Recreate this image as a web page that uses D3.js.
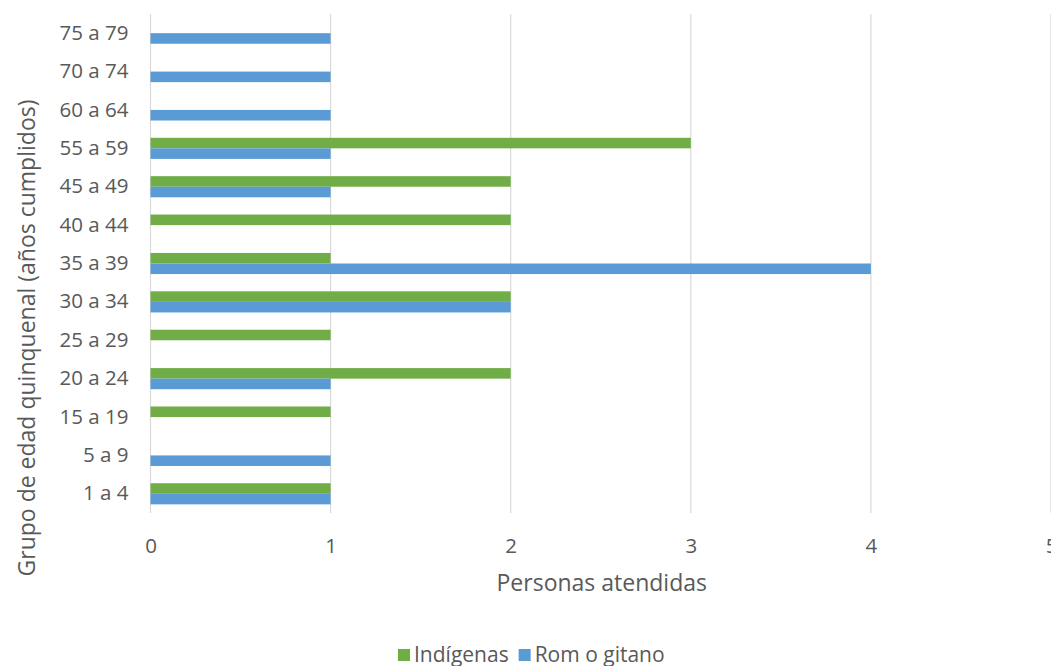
<!DOCTYPE html>
<html>
<head>
<meta charset="utf-8">
<script src="https://cdn.jsdelivr.net/npm/d3@7"></script>
<style>
  body { margin: 0; background: #fff; }
  svg { display: block; font-family: "Open Sans", sans-serif; }
</style>
</head>
<body>
<svg width="1051" height="666"></svg>
<script>
// categories top to bottom
const grupos = ["75 a 79", "70 a 74", "60 a 64", "55 a 59", "45 a 49", "40 a 44",
  "35 a 39", "30 a 34", "25 a 29", "20 a 24", "15 a 19", "5 a 9", "1 a 4"];
const indigenas = [0, 0, 0, 3, 2, 2, 1, 2, 1, 2, 1, 0, 1];
const romGitano = [1, 1, 1, 1, 1, 0, 4, 2, 0, 1, 0, 1, 1];
const xTicks = [0, 1, 2, 3, 4, 5];
const series = [
  { name: "Indígenas", values: indigenas, color: "#70ad47" },
  { name: "Rom o gitano", values: romGitano, color: "#5b9bd5" }
];

const svg = d3.select("svg"),
    plotLeft = 150.5, plotRight = 1051, plotTop = 14, plotBottom = 513;

const x = d3.scaleLinear().domain([0, 5]).range([plotLeft, plotRight]);
const y = d3.scaleBand().domain(grupos).range([plotTop, plotBottom]).paddingInner(0.45).paddingOuter(0.225);
const inner = d3.scaleBand().domain(series.map(s => s.name)).range([0, y.bandwidth()]);

// grid lines
svg.append("g")
  .selectAll("line")
  .data(xTicks)
  .join("line")
    .attr("x1", d => x(d)).attr("x2", d => x(d))
    .attr("y1", plotTop).attr("y2", plotBottom)
    .attr("stroke", "#d9d9d9").attr("stroke-width", 1.2);

// bars
series.forEach(s => {
  svg.append("g")
    .selectAll("rect")
    .data(grupos.map((g, i) => ({ g, v: s.values[i] })).filter(d => d.v > 0))
    .join("rect")
      .attr("x", x(0))
      .attr("y", d => y(d.g) + inner(s.name))
      .attr("width", d => x(d.v) - x(0))
      .attr("height", inner.bandwidth())
      .attr("fill", s.color);
});

// axes (text only, like Excel)
const xAxis = svg.append("g")
  .attr("transform", `translate(0,${plotBottom})`)
  .call(d3.axisBottom(x).tickValues(xTicks).tickSize(0).tickPadding(25).tickFormat(d3.format("d")))
  .attr("font-family", null).attr("font-size", 20.5);
xAxis.select(".domain").remove();
xAxis.selectAll("text").attr("fill", "#595959");

const yAxis = svg.append("g")
  .attr("transform", `translate(${plotLeft},0)`)
  .call(d3.axisLeft(y).tickSize(0).tickPadding(22))
  .attr("font-family", null).attr("font-size", 20.5);
yAxis.select(".domain").remove();
yAxis.selectAll("text").attr("fill", "#595959");

// axis titles
svg.append("text")
  .attr("x", (plotLeft + plotRight) / 2 + 1).attr("y", 591)
  .attr("text-anchor", "middle")
  .attr("font-size", 23).attr("fill", "#595959")
  .text("Personas atendidas");

svg.append("text")
  .attr("transform", "translate(35,338) rotate(-90)")
  .attr("text-anchor", "middle")
  .attr("font-size", 23).attr("fill", "#595959")
  .text("Grupo de edad quinquenal (años cumplidos)");

// legend
const legend = svg.append("g").attr("transform", "translate(398,655)");
let lx = 0;
series.forEach(s => {
  const item = legend.append("g").attr("transform", `translate(${lx},0)`);
  item.append("rect").attr("x", 0).attr("y", -6).attr("width", 12).attr("height", 12).attr("fill", s.color);
  const t = item.append("text").attr("x", 16).attr("y", 7)
    .attr("font-size", 21).attr("fill", "#595959").text(s.name);
  lx += 16 + t.node().getComputedTextLength() + 10;
});
</script>
</body>
</html>
